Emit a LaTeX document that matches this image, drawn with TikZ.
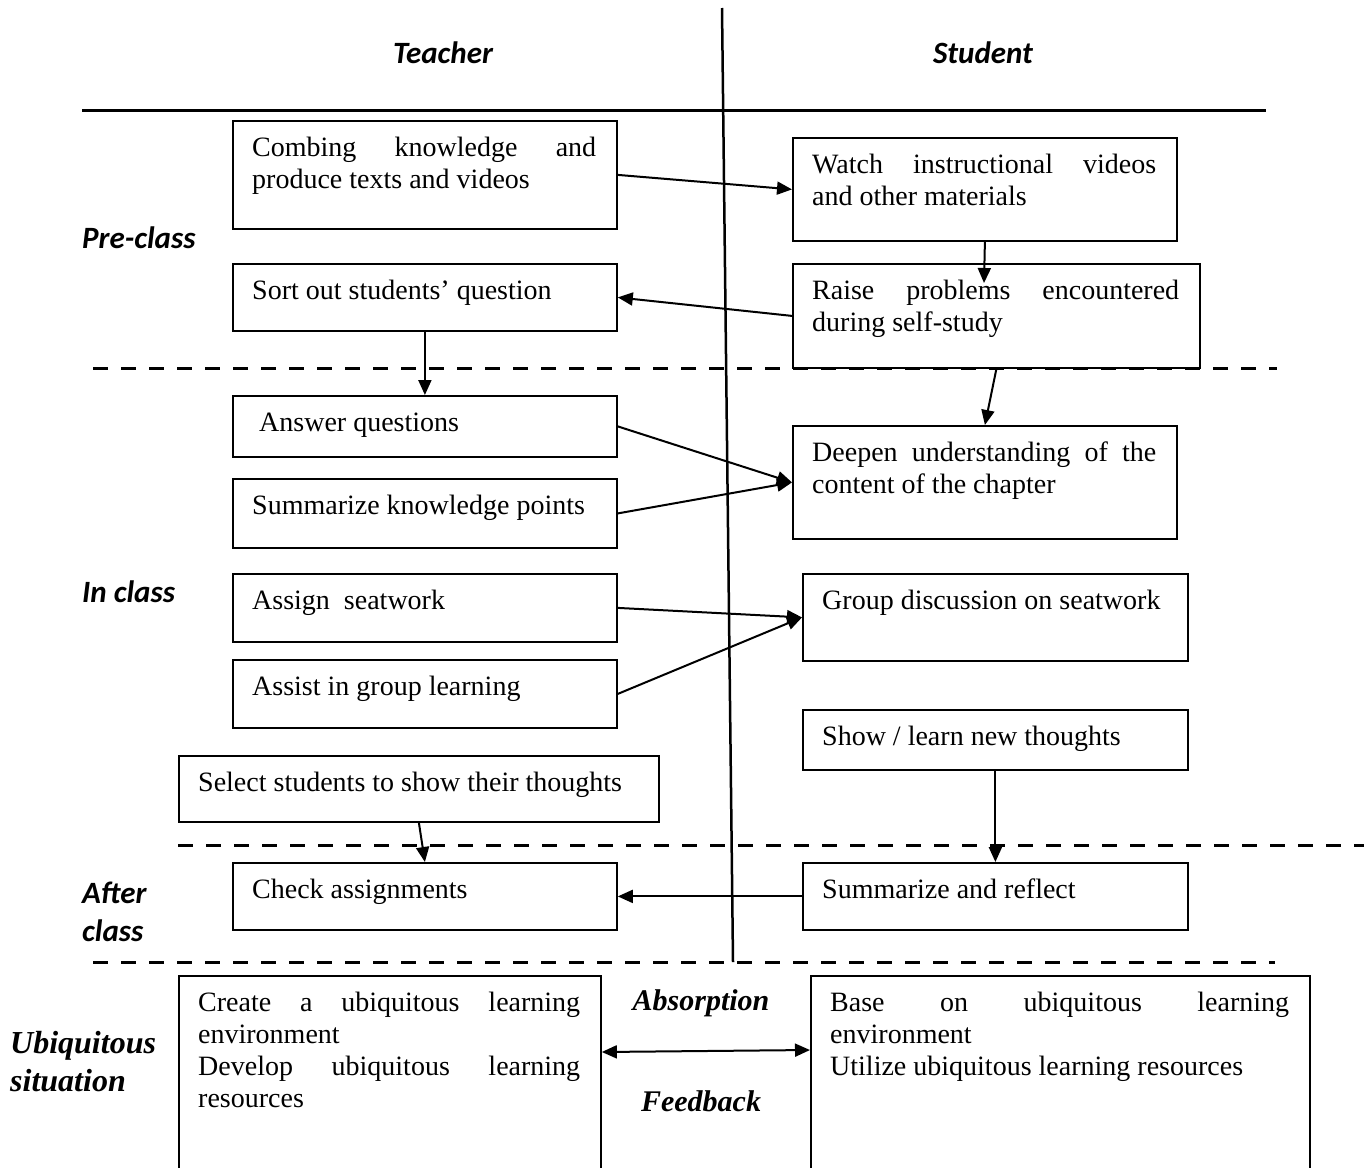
\documentclass[tikz,border=0pt]{standalone}
\usepackage{fontspec}
\setmainfont{Liberation Serif}
\newfontfamily\labfont{Carlito}
\usetikzlibrary{arrows.meta}
\newcommand\mkbox[6]{%
  \pgfmathsetmacro\bw{#4-#2}%
  \pgfmathsetmacro\bh{#5-#3}%
  \pgfmathsetmacro\tw{#4-#2-40}%
  \node[box, minimum width=\bw pt, minimum height=\bh pt] (#1) at (#2,#3) {};
  \node[txt, text width=\tw pt] (#1t) at ({#2+20},{#3+13.6}) {\strut #6};
}
\begin{document}
\begin{tikzpicture}[x=1pt,y=-1pt,
  box/.style={draw, line width=1.8pt, anchor=north west, inner sep=0pt},
  txt/.style={anchor=north west, inner sep=0pt, align=justify,
    font={\fontsize{28}{32}\selectfont\parindent=0pt\hbadness=10000}},
  arr/.style={line width=2pt, -{Triangle[length=15pt,width=13pt]}},
  darr/.style={line width=2pt, {Triangle[length=15pt,width=13pt]}-{Triangle[length=15pt,width=13pt]}},
  dline/.style={line width=3pt, dash pattern=on 15pt off 13pt},
  hd/.style={font={\labfont\bfseries\itshape\fontsize{31}{38}\selectfont}, inner sep=0pt, align=left},
  sbi/.style={font={\bfseries\itshape\fontsize{30}{38}\selectfont}, inner sep=0pt, align=left}
]
\useasboundingbox (0,0) rectangle (1364,1167);
\begin{scope}
\clip (0,0) rectangle (1364,1167);
% header
\node[hd] (teacher) at (443,53) {Teacher};
\node[hd] (student) at (983,53) {Student};
\coordinate (hl1) at (82,110); \coordinate (hl2) at (1266,110);
\draw[line width=3pt] (hl1) -- (hl2);
\coordinate (vd1) at (722,8); \coordinate (vd2) at (733,962);
\draw[line width=2.5pt] (vd1) -- (vd2);
% dashed separators
\coordinate (d1a) at (93,368); \coordinate (d1b) at (1277,368);
\coordinate (d2a) at (178,845); \coordinate (d2b) at (1364,845);
\coordinate (d3a) at (93,962); \coordinate (d3b) at (1275,962);
\draw[dline] (d1a) -- (d1b);
\draw[dline] (d2a) -- (d2b);
\draw[dline] (d3a) -- (d3b);
% phase labels
\node[hd, anchor=west] (pre) at (82,238) {Pre-class};
\node[hd, anchor=west] (inc) at (82,592) {In class};
\node[hd, anchor=west] (aft) at (82,912) {After\\class};
\node[sbi, anchor=west, font={\bfseries\itshape\fontsize{32}{38}\selectfont}] (ubi) at (10,1062) {Ubiquitous\\situation};
\node[sbi] (abs) at (701,1003) {Absorption};
\node[sbi] (fb) at (701,1101) {Feedback};
% boxes
\mkbox{T1}{232}{120}{616}{228}{Combing knowledge and\linebreak produce texts and videos}
\mkbox{S1}{792}{137}{1176}{240}{Watch instructional videos\linebreak and other materials}
\mkbox{T2}{232}{263}{616}{330}{Sort out students’ question}
\mkbox{S2}{792}{263}{1199}{367}{Raise problems encountered\linebreak during self-study}
\mkbox{T3}{232}{395}{616}{456}{~Answer questions}
\mkbox{T4}{232}{478}{616}{547}{Summarize knowledge points}
\mkbox{S3}{792}{425}{1176}{538}{Deepen understanding of the\linebreak content of the chapter}
\mkbox{T5}{232}{573}{616}{641}{Assign~ seatwork}
\mkbox{T6}{232}{659}{616}{727}{Assist in group learning}
\mkbox{S4}{802}{573}{1187}{660}{Group discussion on seatwork}
\mkbox{S5}{802}{709}{1187}{769}{Show / learn new thoughts}
\mkbox{T7}{178}{755}{658}{821}{Select students to show their thoughts}
\mkbox{T8}{232}{862}{616}{929}{Check assignments}
\mkbox{S6}{802}{862}{1187}{929}{Summarize and reflect}
\mkbox{T9}{178}{975}{600}{1200}{Create a ubiquitous learning\linebreak environment\par Develop ubiquitous learning\linebreak resources}
\mkbox{S7}{810}{975}{1309}{1200}{Base on ubiquitous learning\linebreak environment\par Utilize ubiquitous learning resources}
% connectors
\coordinate (s2in) at (984,283);
\draw[arr] (T1.east) -- (S1.west);
\draw[arr] (S1.south) -- (s2in);
\draw[arr] (S2.west) -- (T2.east);
\draw[arr] (T2.south) -- (T3.north);
\draw[arr] (S2.south) -- (S3.north);
\draw[arr] (T3.east) -- (S3.west);
\draw[arr] (T4.east) -- (S3.west);
\draw[arr] (T5.east) -- (S4.west);
\draw[arr] (T6.east) -- (S4.west);
\draw[arr] (S5.south) -- (S6.north);
\draw[arr] (T7.south) -- (T8.north);
\draw[arr] (S6.west) -- (T8.east);
\draw[darr] ([yshift=-77pt]T9.north east) -- ([yshift=-75pt]S7.north west);
\end{scope}
\end{tikzpicture}
\end{document}
